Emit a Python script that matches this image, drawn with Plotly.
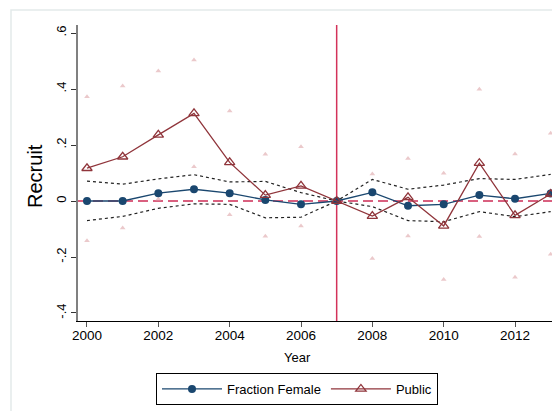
import plotly.graph_objects as go

years = list(range(2000, 2014))
frac_female = [0.0, 0.0, 0.028, 0.042, 0.028, 0.004, -0.012, 0.0, 0.031, -0.017, -0.012, 0.021, 0.008, 0.027]
public = [0.117, 0.158, 0.236, 0.313, 0.138, 0.021, 0.054, 0.0, -0.054, 0.013, -0.089, 0.135, -0.051, 0.025]
ci_upper = [0.071, 0.060, 0.079, 0.094, 0.068, 0.070, 0.030, 0.0, 0.077, 0.042, 0.057, 0.080, 0.077, 0.095]
ci_lower = [-0.070, -0.055, -0.026, -0.010, -0.012, -0.060, -0.058, 0.0, -0.020, -0.070, -0.074, -0.038, -0.056, -0.038]
pub_upper = [0.372, 0.411, 0.464, 0.504, 0.321, 0.167, 0.194, 0.0, 0.096, 0.152, 0.099, 0.399, 0.168, 0.242]
pub_lower = [-0.142, -0.096, 0.007, 0.122, -0.049, -0.126, -0.089, 0.0, -0.205, -0.125, -0.280, -0.127, -0.272, -0.190]
y_ticks = [-0.4, -0.2, 0, 0.2, 0.4, 0.6]
y_tick_labels = ["-.4", "-.2", "0", ".2", ".4", ".6"]
x_ticks = [2000, 2002, 2004, 2006, 2008, 2010, 2012]
event_year = 2007

NAVY = "#1a476f"
MAROON = "#90353b"
FONT = "Liberation Sans, Arial, sans-serif"

# page body has an 8px margin, so the figure is laid out 8px up/left of the window coords
OFF = 8
W, H = 560 - OFF, 411 - OFF

fig = go.Figure()

for vals in (pub_upper, pub_lower):
    fig.add_trace(go.Scatter(x=years, y=vals, mode="markers",
                             marker=dict(symbol="triangle-up", size=5, color="#ebc9cb"),
                             showlegend=False, hoverinfo="skip"))
for vals in (ci_upper, ci_lower):
    fig.add_trace(go.Scatter(x=years, y=vals, mode="lines",
                             line=dict(color="#222222", width=1.2, dash="3px,3px"),
                             showlegend=False, hoverinfo="skip"))

fig.add_trace(go.Scatter(x=years, y=frac_female, mode="lines+markers", name="Fraction Female",
                         line=dict(color=NAVY, width=1.3),
                         marker=dict(symbol="circle", size=8, color=NAVY)))
fig.add_trace(go.Scatter(x=years, y=public, mode="lines+markers", name="Public",
                         line=dict(color=MAROON, width=1.3),
                         marker=dict(symbol="triangle-up-open", size=9, color=MAROON,
                                     line=dict(width=1.3, color=MAROON))))

# zero reference line and event line
fig.add_shape(type="line", xref="paper", yref="y", x0=0, x1=1, y0=0, y1=0,
              line=dict(color="#d9607f", width=2, dash="10px,5px"), layer="below")
fig.add_shape(type="line", xref="x", yref="paper", x0=event_year, x1=event_year, y0=0, y1=1,
              line=dict(color="#d3325a", width=1.5), layer="below")

# outer graph region frame
fig.add_shape(type="rect", xref="paper", yref="paper",
              x0=(11 - 78) / 480, x1=1.05, y0=-0.4, y1=1 + 15 / 296,
              line=dict(color="#e3eaea", width=1.5), fillcolor="rgba(0,0,0,0)", layer="below")

fig.add_annotation(text="Recruit", xref="paper", yref="paper", x=(35 - 78) / 480, y=0.49,
                   textangle=-90, showarrow=False, font=dict(size=20, color="black", family=FONT),
                   xanchor="center", yanchor="middle")
fig.add_annotation(text="Year", xref="paper", yref="paper", x=(297 - 78) / 480, y=(321 - 357) / 296,
                   showarrow=False, font=dict(size=13, color="black", family=FONT),
                   xanchor="center", yanchor="middle")

fig.update_layout(
    width=W, height=H,
    margin=dict(l=78 - OFF, r=2, t=25 - OFF, b=90, autoexpand=False),
    paper_bgcolor="white", plot_bgcolor="white",
    font=dict(family=FONT, size=13, color="black"),
    showlegend=True,
    legend=dict(orientation="h", xref="container", yref="container",
                x=(297 - OFF) / W, xanchor="center", y=1 - (373 - OFF) / H, yanchor="top",
                bordercolor="black", borderwidth=1, bgcolor="white",
                font=dict(size=13, family=FONT), itemwidth=60, tracegroupgap=0),
    xaxis=dict(range=[1999.748, 2013.205], tickvals=x_ticks, ticks="outside", ticklen=5,
               tickcolor="#555555", showgrid=False, zeroline=False, showline=True, automargin=False,
               linecolor="black", linewidth=1, tickfont=dict(size=13.5, family=FONT),
               ticklabelstandoff=-3),
    yaxis=dict(range=[-0.4286, 0.6286], tickvals=y_ticks, ticktext=y_tick_labels, tickangle=-90,
               ticks="outside", ticklen=5, tickcolor="#333333", showgrid=False, zeroline=False,
               showline=True, automargin=False, linecolor="#808080", linewidth=2,
               tickfont=dict(size=13, family=FONT)),
)

fig.write_html("out.html")
